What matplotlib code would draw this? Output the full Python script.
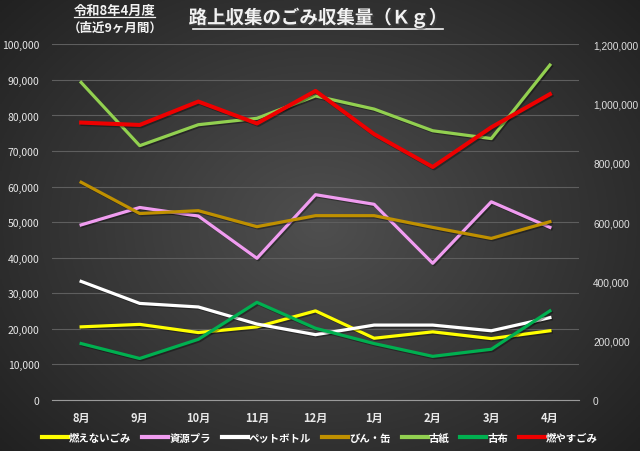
import numpy as np
import matplotlib
matplotlib.use("Agg")
import matplotlib.pyplot as plt
import matplotlib.patheffects as pe

plt.rcParams['font.family'] = ['Noto Sans CJK JP', 'DejaVu Sans']

# データ (kg)
months = ['8月', '9月', '10月', '11月', '12月', '1月', '2月', '3月', '4月']
moenai = [20500, 21200, 18900, 20500, 25000, 17300, 19100, 17200, 19400]
shigen_pura = [49200, 54100, 51700, 39800, 57700, 55000, 38400, 55700, 48500]
petbottle = [33300, 27100, 26100, 21300, 18300, 21000, 21000, 19400, 23100]
bin_kan = [61200, 52400, 53200, 48700, 51800, 51800, 48500, 45400, 50100]
koshi = [89300, 71500, 77400, 79200, 85500, 81800, 75700, 73500, 94200]
kofu = [15800, 11600, 17000, 27400, 20100, 15800, 12200, 14200, 25000]
moyasu = [936000, 928000, 1007000, 933000, 1043000, 897000, 786000, 920000, 1032000]  # 第2軸

left_series = [
    ('燃えないごみ', moenai, '#ffff00'),
    ('資源プラ', shigen_pura, '#f09cf0'),
    ('ペットボトル', petbottle, '#ffffff'),
    ('びん・缶', bin_kan, '#bf9000'),
    ('古紙', koshi, '#92d050'),
    ('古布', kofu, '#00b050'),
]

fig = plt.figure(figsize=(6.4, 4.52), dpi=100)

# 背景グラデーション
bg = fig.add_axes([0, 0, 1, 1])
yy, xx = np.mgrid[-1:1:200j, -1:1:280j]
r = np.sqrt(xx ** 2 + (yy * 0.9) ** 2) / np.sqrt(2)
img = 0.31 - 0.19 * r
bg.imshow(np.dstack([img, img, img]).clip(0, 1), aspect='auto', extent=[0, 1, 0, 1])
bg.axis('off')

ax = fig.add_axes([0.081, 0.1135, 0.824, 0.786])
ax.patch.set_alpha(0)
x = np.arange(len(months))
shadow = [pe.SimpleLineShadow(offset=(1, -1), alpha=0.35), pe.Normal()]
for name, vals, col in left_series:
    ax.plot(x, vals, color=col, lw=2.3, label=name, path_effects=shadow)

ax.set_xlim(-0.5, len(months) - 0.5)
ax.set_ylim(0, 100000)
ax.set_yticks(np.arange(0, 100001, 10000))
ax.set_yticklabels([f'{v:,}' for v in range(0, 100001, 10000)])
ax.set_xticks(x)
ax.set_xticklabels(months, fontweight='bold')
ax.grid(axis='y', color='#5e5e5e', lw=0.8)
ax.set_axisbelow(True)
for s in ['top', 'right', 'left']:
    ax.spines[s].set_visible(False)
ax.spines['bottom'].set_color('#9a9a9a')
ax.tick_params(axis='both', length=0, colors='#e8e8e8', labelsize=7.5)
ax.tick_params(axis='x', pad=8, labelsize=8)
ax.tick_params(axis='y', pad=9)

ax2 = ax.twinx()
ax2.plot(x, moyasu, color='#ee0000', lw=2.9, label='燃やすごみ', path_effects=shadow)
ax2.set_ylim(0, 1200000)
ax2.set_yticks(np.arange(0, 1200001, 200000))
ax2.set_yticklabels([f'{v:,}' for v in range(0, 1200001, 200000)], family='Liberation Sans')
ax2.tick_params(axis='y', length=0, colors='#e0e0e0', labelsize=7.3, pad=10)
for s in ax2.spines.values():
    s.set_visible(False)

h1, l1 = ax.get_legend_handles_labels()
h2, l2 = ax2.get_legend_handles_labels()
leg = fig.legend(h1 + h2, l1 + l2, loc='center', bbox_to_anchor=(0.50, 1 - 439 / 452),
                 ncol=7, frameon=False, fontsize=7.5, handlelength=2.5,
                 handletextpad=0.1, columnspacing=1.05)
for t in leg.get_texts():
    t.set_color('white')
    t.set_fontweight('bold')
for h in leg.legend_handles:
    h.set_linewidth(3)
    h.set_path_effects([])

fig.text(0.497, 1 - 19 / 452, '路上収集のごみ収集量（Ｋｇ）', ha='center', va='center',
         fontsize=13.3, fontweight='bold', color='#f2f2f2',
         path_effects=[pe.withSimplePatchShadow(offset=(1.2, -1.2), alpha=0.6)])
# 下線
fig.add_artist(plt.Line2D([193 / 640, 443 / 640], [1 - 30 / 452] * 2, color='#f2f2f2', lw=1.2))

fig.text(115 / 640, 1 - 11 / 452, '令和8年4月度', ha='center', va='center',
         fontsize=9.5, fontweight='bold', color='#f2f2f2')
fig.add_artist(plt.Line2D([74 / 640, 155 / 640], [1 - 18 / 452] * 2, color='#f2f2f2', lw=0.9))
fig.text(115 / 640, 1 - 28 / 452, '（直近9ヶ月間）', ha='center', va='center',
         fontsize=9, fontweight='bold', color='#f2f2f2')

fig.savefig('out.png', dpi=100)
